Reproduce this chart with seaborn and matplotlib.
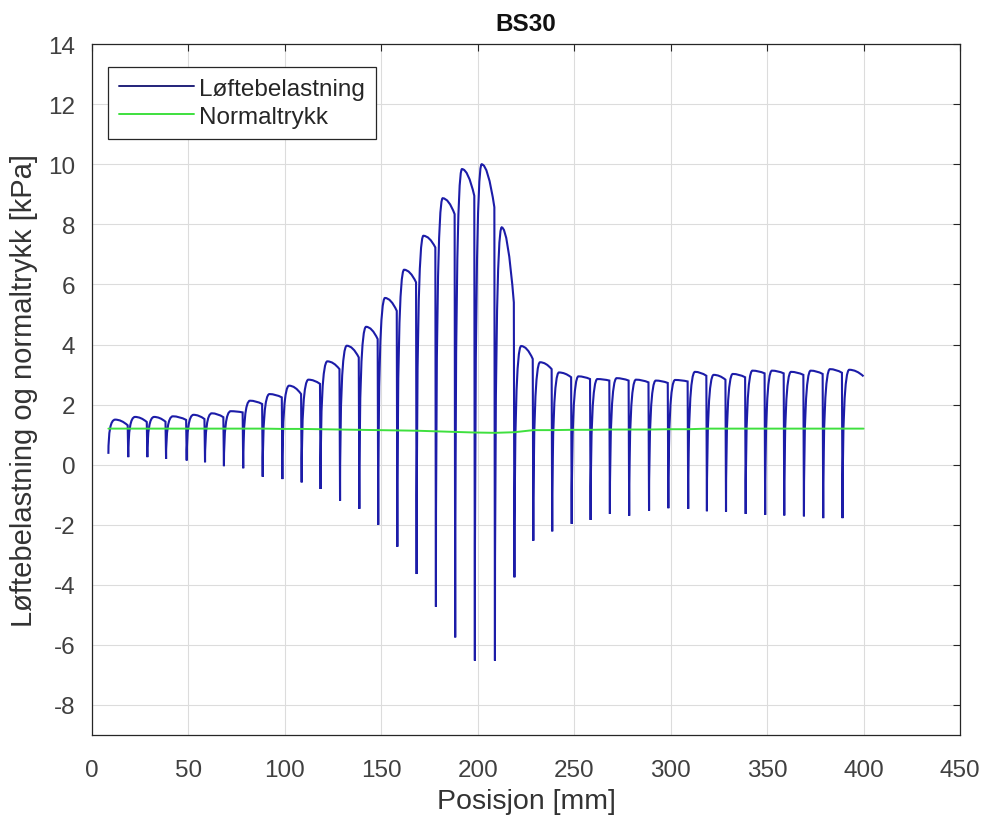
import numpy as np
import matplotlib
matplotlib.use("Agg")
import matplotlib.pyplot as plt
from matplotlib.path import Path
from matplotlib.patches import PathPatch
from matplotlib.lines import Line2D
import seaborn as sns

# Bunnpunkt for hver syklus (posisjon i mm og verdi i kPa)
trough_x = [8.5, 18.8, 28.7, 38.4, 49.1, 58.6, 68.4, 78.4, 88.5, 98.7,
            108.7, 118.5, 128.6, 138.6, 148.4, 158.3, 168.3, 178.3, 188.3, 198.5,
            208.9, 219.0, 228.8, 238.6, 248.7, 258.5, 268.5, 278.5, 288.8, 298.8,
            309.1, 318.8, 328.7, 338.9, 349.0, 358.9, 369.1, 379.1, 389.1]
trough_val = [0.36, 0.25, 0.25, 0.19, 0.14, 0.08, -0.05, -0.12, -0.40, -0.48,
              -0.59, -0.81, -1.20, -1.47, -2.00, -2.73, -3.64, -4.73, -5.75, -6.52,
              -6.52, -3.75, -2.53, -2.22, -1.97, -1.84, -1.64, -1.70, -1.53, -1.45,
              -1.47, -1.55, -1.56, -1.64, -1.67, -1.69, -1.72, -1.78, -1.78]
# Toppverdi etter hvert bunnpunkt
peak_val = [1.50, 1.59, 1.59, 1.61, 1.66, 1.71, 1.78, 2.13, 2.35, 2.63,
            2.83, 3.44, 3.96, 4.59, 5.55, 6.49, 7.62, 8.87, 9.84, 10.00,
            7.90, 3.95, 3.41, 3.07, 2.94, 2.85, 2.88, 2.83, 2.80, 2.82,
            3.09, 2.99, 3.02, 3.13, 3.13, 3.09, 3.13, 3.18, 3.16]
# Verdi rett foer neste bunnpunkt (siste: ved 400 mm)
end_val = [1.31, 1.42, 1.43, 1.49, 1.52, 1.58, 1.74, 2.02, 2.24, 2.35,
           2.69, 3.18, 3.57, 4.18, 5.12, 6.07, 7.23, 8.34, 8.95, 8.57,
           5.40, 3.52, 3.18, 2.91, 2.85, 2.80, 2.80, 2.74, 2.72, 2.77,
           2.96, 2.83, 2.91, 3.04, 3.04, 2.99, 3.02, 3.06, 2.94]
end_x_last = 400.0

# Normaltrykk
normal_x = trough_x + [400.0]
normal_val = [1.20, 1.20, 1.20, 1.20, 1.20, 1.20, 1.20, 1.20, 1.20, 1.19,
              1.19, 1.18, 1.17, 1.16, 1.15, 1.14, 1.13, 1.11, 1.09, 1.07,
              1.06, 1.08, 1.15, 1.15, 1.16, 1.16, 1.17, 1.17, 1.17, 1.18,
              1.18, 1.20, 1.20, 1.20, 1.20, 1.20, 1.20, 1.20, 1.20, 1.20]

blue = "#1c1ca8"
green = "#3ee03e"

sns.set_style("whitegrid")
plt.rcParams["font.family"] = ["Liberation Sans", "DejaVu Sans"]
plt.rcParams["axes.unicode_minus"] = False

fig = plt.figure(figsize=(9.85, 8.2), dpi=100)
ax = fig.add_axes([0.0934, 0.1024, 0.8812, 0.8426])

# Loeftebelastning: bratt stigning fra bunn til topp, deretter fall mot neste bunn
peak_off = 3.5
verts, codes = [], []
n = len(trough_x)
for i in range(n):
    xt, T, P, E = trough_x[i], trough_val[i], peak_val[i], end_val[i]
    xp = xt + peak_off
    xe = trough_x[i + 1] - 0.3 if i < n - 1 else end_x_last
    verts.append((xt, T))
    codes.append(Path.MOVETO if i == 0 else Path.LINETO)
    verts += [(xt, P), (xp, P)]
    codes += [Path.CURVE3, Path.CURVE3]
    verts += [((xp + xe) / 2, P), (xe, E)]
    codes += [Path.CURVE3, Path.CURVE3]
ax.add_patch(PathPatch(Path(verts, codes), facecolor="none", edgecolor=blue,
                       lw=1.5, zorder=3))

sns.lineplot(x=normal_x, y=normal_val, color=green, lw=1.4, ax=ax, zorder=4)

ax.set_xlim(0, 450)
ax.set_ylim(-9, 14)
ax.set_xticks(np.arange(0, 451, 50))
ax.set_yticks(np.arange(-8, 15, 2))
ax.grid(True, color="#dcdcdc", lw=0.8)
for s in ax.spines.values():
    s.set_color("#262626")
    s.set_linewidth(0.9)
ax.tick_params(direction="in", length=5, width=0.8, colors="#262626",
               labelsize=17.5, top=True, right=True, labelcolor="#404040")
ax.tick_params(axis="x", pad=17)
ax.tick_params(axis="y", pad=12)

ax.set_title("BS30", fontsize=17.5, fontweight="bold", color="#111111", pad=10)
ax.set_xlabel("Posisjon [mm]", fontsize=20.5, color="#333333")
ax.set_ylabel("Løftebelastning og normaltrykk [kPa]", fontsize=21, color="#333333")
ax.xaxis.set_label_coords(0.5, -0.077)
ax.yaxis.set_label_coords(-0.062, 0.5)

handles = [Line2D([], [], color="#23237a", lw=1.4),
           Line2D([], [], color=green, lw=1.4)]
leg = ax.legend(handles, ["Løftebelastning", "Normaltrykk"], loc="upper left",
                bbox_to_anchor=(0.018, 0.967), fontsize=17.5, frameon=True,
                fancybox=False, edgecolor="#262626", framealpha=1,
                handlelength=3.1, handletextpad=0.2, borderpad=0.45,
                labelspacing=0.25, borderaxespad=0)
leg.get_frame().set_linewidth(0.9)

fig.savefig("out.png", dpi=100)
